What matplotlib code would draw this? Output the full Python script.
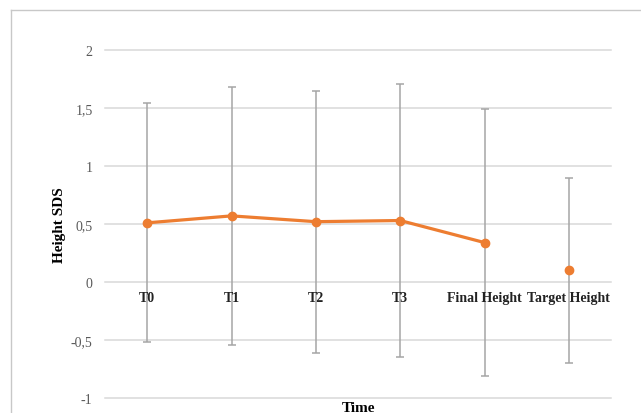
import matplotlib
matplotlib.use("Agg")
import matplotlib.pyplot as plt
from matplotlib.lines import Line2D

categories = ["T0", "T1", "T2", "T3", "Final Height", "Target Height"]
means = [0.51, 0.57, 0.52, 0.53, 0.34, 0.10]
sds = [1.03, 1.11, 1.13, 1.18, 1.15, 0.80]
yticks = [-1, -0.5, 0, 0.5, 1, 1.5, 2]
ytick_labels = ["-1", "-0,5", "0", "0,5", "1", "1,5", "2"]

orange = "#ED7D31"
grey_err = "#A5A5A5"

fig = plt.figure(figsize=(6.41, 4.14), dpi=100)
ax = fig.add_axes([105/641, 1-399/414, 506/641, (399-51)/414])

x = list(range(len(categories)))
n_line = 5
ax.errorbar(x, means, yerr=sds, fmt="none", ecolor=grey_err, elinewidth=1.1,
            capsize=3, capthick=1.1, zorder=2)
ax.plot(x[:n_line], means[:n_line], color=orange, lw=2.3, marker="o", ms=6, zorder=3)
ax.plot(x[n_line:], means[n_line:], color=orange, lw=0, marker="o", ms=6, zorder=3)

ax.set_xlim(-0.5, len(categories)-0.5)
ax.set_ylim(-1, 2)
ax.set_yticks(yticks)
ax.set_yticklabels(ytick_labels, family="Liberation Serif", fontsize=10, color="#595959")
ax.set_xticks([])
ax.tick_params(axis="y", length=0, pad=9)
for s in ax.spines.values():
    s.set_visible(False)
ax.grid(axis="y", color="#D9D9D9", lw=1.1)
for gl in ax.get_ygridlines():
    gl.set_clip_on(False)
ax.set_axisbelow(True)

for i, c in enumerate(categories):
    ax.annotate(c, xy=(i, 0), xytext=(0, -11.5), textcoords="offset points",
                ha="center", va="center", family="Liberation Serif",
                fontweight="bold", fontsize=10, color="#222222", zorder=4)

ax.set_ylabel("Height SDS", family="Liberation Serif", fontweight="bold",
              fontsize=11, color="black")
ax.yaxis.set_label_coords((66-105)/506, 0.5)
fig.text(358/641, 1-409/414, "Time", ha="center", va="center",
         family="Liberation Serif", fontweight="bold", fontsize=11)

fig.add_artist(Line2D([11/641, 1.0], [1-11/414, 1-11/414], color="#C8C8C8", lw=1))
fig.add_artist(Line2D([11/641, 11/641], [0, 1-11/414], color="#C8C8C8", lw=1))

fig.savefig("out.png", dpi=100)
